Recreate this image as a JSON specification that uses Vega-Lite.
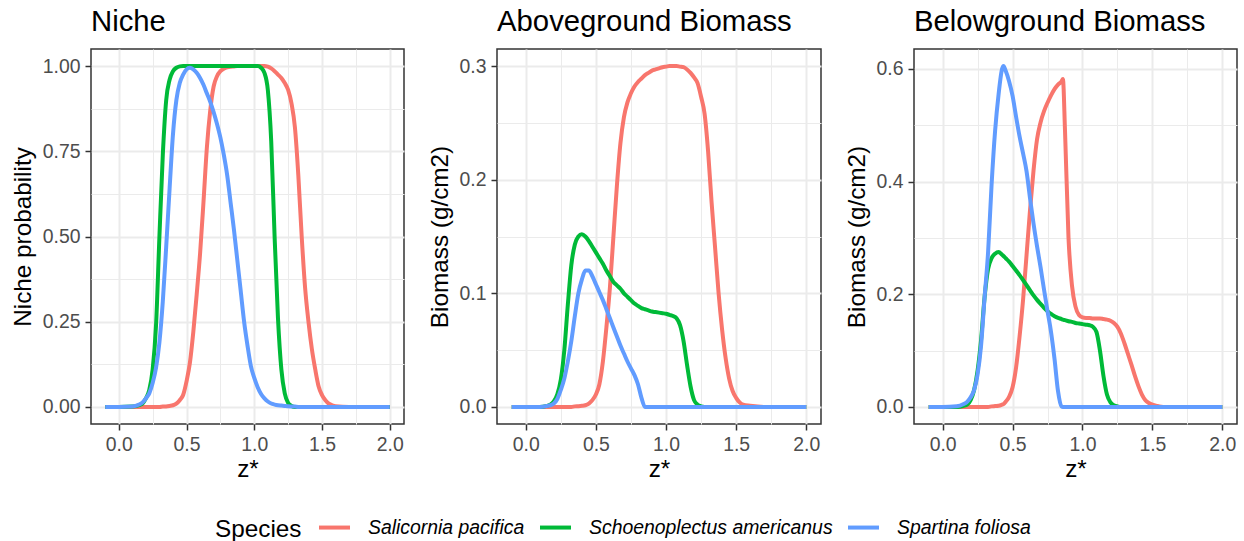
{
"$schema": "https://vega.github.io/schema/vega-lite/v6.json",
"padding": {"left": 10, "top": 6, "right": 8, "bottom": 0},
"background": "white",
"spacing": 22,
"bounds": "full",
"align": "none",
"config": {
 "font": "Liberation Sans",
 "view": {"stroke": "#333333", "strokeWidth": 1.5},
 "axis": {"domain": false, "gridColor": "#EBEBEB", "tickColor": "#333333", "tickSize": 6, "tickWidth": 1.5, "labelFontSize": 19.4, "labelColor": "#4D4D4D", "titleFontSize": 24.3, "titleColor": "#000000", "titleFontWeight": "normal", "labelFlush": false, "labelOverlap": false, "labelFont": "Liberation Sans", "titleFont": "Liberation Sans"},
 "axisX": {"labelPadding": 5, "titlePadding": 4},
 "axisY": {"labelPadding": 5, "titlePadding": 7},
 "title": {"fontSize": 29.3, "fontWeight": "normal", "color": "#000000", "anchor": "start", "frame": "group", "baseline": "alphabetic", "offset": 12, "font": "Liberation Sans"},
 "legend": {"direction": "horizontal", "titleOrient": "left", "titleBaseline": "line-top", "titleLineHeight": 13, "titleFontSize": 24.3, "titleFontWeight": "normal", "titleColor": "#000000", "labelFontSize": 19.4, "labelFontStyle": "italic", "labelColor": "#000000", "labelLimit": 500, "symbolType": "stroke", "symbolSize": 961, "symbolStrokeWidth": 4, "labelOffset": 16, "columnPadding": 7, "titlePadding": 15, "titleFont": "Liberation Sans", "labelFont": "Liberation Sans"},
 "line": {"strokeWidth": 4, "interpolate": "monotone"}
},
"datasets": {
 "niche": [
  {"z":-0.1,"Salicornia pacifica":0,"Schoenoplectus americanus":0,"Spartina foliosa":0},
  {"z":0,"Salicornia pacifica":0,"Schoenoplectus americanus":0,"Spartina foliosa":0},
  {"z":0.1,"Salicornia pacifica":0,"Schoenoplectus americanus":0.001,"Spartina foliosa":0.001},
  {"z":0.15,"Salicornia pacifica":0,"Schoenoplectus americanus":0.005,"Spartina foliosa":0.007},
  {"z":0.175,"Salicornia pacifica":0,"Schoenoplectus americanus":0.01,"Spartina foliosa":0.013},
  {"z":0.2,"Salicornia pacifica":0,"Schoenoplectus americanus":0.025,"Spartina foliosa":0.025},
  {"z":0.225,"Salicornia pacifica":0,"Schoenoplectus americanus":0.05,"Spartina foliosa":0.04},
  {"z":0.25,"Salicornia pacifica":0,"Schoenoplectus americanus":0.11,"Spartina foliosa":0.07},
  {"z":0.275,"Salicornia pacifica":0,"Schoenoplectus americanus":0.24,"Spartina foliosa":0.115},
  {"z":0.3,"Salicornia pacifica":0,"Schoenoplectus americanus":0.5,"Spartina foliosa":0.19},
  {"z":0.325,"Salicornia pacifica":0.001,"Schoenoplectus americanus":0.74,"Spartina foliosa":0.31},
  {"z":0.35,"Salicornia pacifica":0.0015,"Schoenoplectus americanus":0.9,"Spartina foliosa":0.47},
  {"z":0.375,"Salicornia pacifica":0.003,"Schoenoplectus americanus":0.96,"Spartina foliosa":0.64},
  {"z":0.4,"Salicornia pacifica":0.005,"Schoenoplectus americanus":0.985,"Spartina foliosa":0.8},
  {"z":0.425,"Salicornia pacifica":0.01,"Schoenoplectus americanus":0.995,"Spartina foliosa":0.9},
  {"z":0.45,"Salicornia pacifica":0.02,"Schoenoplectus americanus":0.999,"Spartina foliosa":0.95},
  {"z":0.475,"Salicornia pacifica":0.035,"Schoenoplectus americanus":1,"Spartina foliosa":0.975},
  {"z":0.5,"Salicornia pacifica":0.075,"Schoenoplectus americanus":1,"Spartina foliosa":0.99},
  {"z":0.525,"Salicornia pacifica":0.13,"Schoenoplectus americanus":1,"Spartina foliosa":0.995},
  {"z":0.55,"Salicornia pacifica":0.22,"Schoenoplectus americanus":1,"Spartina foliosa":0.99},
  {"z":0.575,"Salicornia pacifica":0.33,"Schoenoplectus americanus":1,"Spartina foliosa":0.98},
  {"z":0.6,"Salicornia pacifica":0.45,"Schoenoplectus americanus":1,"Spartina foliosa":0.965},
  {"z":0.625,"Salicornia pacifica":0.6,"Schoenoplectus americanus":1,"Spartina foliosa":0.945},
  {"z":0.65,"Salicornia pacifica":0.76,"Schoenoplectus americanus":1,"Spartina foliosa":0.92},
  {"z":0.675,"Salicornia pacifica":0.87,"Schoenoplectus americanus":1,"Spartina foliosa":0.895},
  {"z":0.7,"Salicornia pacifica":0.94,"Schoenoplectus americanus":1,"Spartina foliosa":0.865},
  {"z":0.725,"Salicornia pacifica":0.97,"Schoenoplectus americanus":1,"Spartina foliosa":0.83},
  {"z":0.75,"Salicornia pacifica":0.985,"Schoenoplectus americanus":1,"Spartina foliosa":0.79},
  {"z":0.775,"Salicornia pacifica":0.992,"Schoenoplectus americanus":1,"Spartina foliosa":0.74},
  {"z":0.8,"Salicornia pacifica":0.996,"Schoenoplectus americanus":1,"Spartina foliosa":0.68},
  {"z":0.825,"Salicornia pacifica":0.998,"Schoenoplectus americanus":1,"Spartina foliosa":0.6},
  {"z":0.85,"Salicornia pacifica":0.999,"Schoenoplectus americanus":1,"Spartina foliosa":0.52},
  {"z":0.875,"Salicornia pacifica":1,"Schoenoplectus americanus":1,"Spartina foliosa":0.43},
  {"z":0.9,"Salicornia pacifica":1,"Schoenoplectus americanus":1,"Spartina foliosa":0.34},
  {"z":0.925,"Salicornia pacifica":1,"Schoenoplectus americanus":1,"Spartina foliosa":0.25},
  {"z":0.95,"Salicornia pacifica":1,"Schoenoplectus americanus":1,"Spartina foliosa":0.18},
  {"z":0.975,"Salicornia pacifica":1,"Schoenoplectus americanus":1,"Spartina foliosa":0.12},
  {"z":1.0,"Salicornia pacifica":1,"Schoenoplectus americanus":1,"Spartina foliosa":0.085},
  {"z":1.025,"Salicornia pacifica":1,"Schoenoplectus americanus":1,"Spartina foliosa":0.058},
  {"z":1.05,"Salicornia pacifica":1,"Schoenoplectus americanus":0.995,"Spartina foliosa":0.038},
  {"z":1.075,"Salicornia pacifica":1,"Schoenoplectus americanus":0.98,"Spartina foliosa":0.025},
  {"z":1.1,"Salicornia pacifica":0.998,"Schoenoplectus americanus":0.93,"Spartina foliosa":0.016},
  {"z":1.125,"Salicornia pacifica":0.993,"Schoenoplectus americanus":0.78,"Spartina foliosa":0.01},
  {"z":1.15,"Salicornia pacifica":0.985,"Schoenoplectus americanus":0.5,"Spartina foliosa":0.007},
  {"z":1.175,"Salicornia pacifica":0.975,"Schoenoplectus americanus":0.26,"Spartina foliosa":0.005},
  {"z":1.2,"Salicornia pacifica":0.965,"Schoenoplectus americanus":0.11,"Spartina foliosa":0.004},
  {"z":1.225,"Salicornia pacifica":0.95,"Schoenoplectus americanus":0.04,"Spartina foliosa":0.003},
  {"z":1.25,"Salicornia pacifica":0.93,"Schoenoplectus americanus":0.012,"Spartina foliosa":0.002},
  {"z":1.275,"Salicornia pacifica":0.89,"Schoenoplectus americanus":0.003,"Spartina foliosa":0.0015},
  {"z":1.3,"Salicornia pacifica":0.82,"Schoenoplectus americanus":0,"Spartina foliosa":0.001},
  {"z":1.325,"Salicornia pacifica":0.68,"Schoenoplectus americanus":0,"Spartina foliosa":0},
  {"z":1.35,"Salicornia pacifica":0.5,"Schoenoplectus americanus":0,"Spartina foliosa":0},
  {"z":1.375,"Salicornia pacifica":0.35,"Schoenoplectus americanus":0,"Spartina foliosa":0},
  {"z":1.4,"Salicornia pacifica":0.25,"Schoenoplectus americanus":0,"Spartina foliosa":0},
  {"z":1.425,"Salicornia pacifica":0.17,"Schoenoplectus americanus":0,"Spartina foliosa":0},
  {"z":1.45,"Salicornia pacifica":0.11,"Schoenoplectus americanus":0,"Spartina foliosa":0},
  {"z":1.475,"Salicornia pacifica":0.06,"Schoenoplectus americanus":0,"Spartina foliosa":0},
  {"z":1.5,"Salicornia pacifica":0.035,"Schoenoplectus americanus":0,"Spartina foliosa":0},
  {"z":1.525,"Salicornia pacifica":0.02,"Schoenoplectus americanus":0,"Spartina foliosa":0},
  {"z":1.55,"Salicornia pacifica":0.01,"Schoenoplectus americanus":0,"Spartina foliosa":0},
  {"z":1.575,"Salicornia pacifica":0.005,"Schoenoplectus americanus":0,"Spartina foliosa":0},
  {"z":1.6,"Salicornia pacifica":0.002,"Schoenoplectus americanus":0,"Spartina foliosa":0},
  {"z":1.7,"Salicornia pacifica":0,"Schoenoplectus americanus":0,"Spartina foliosa":0},
  {"z":1.8,"Salicornia pacifica":0,"Schoenoplectus americanus":0,"Spartina foliosa":0},
  {"z":1.9,"Salicornia pacifica":0,"Schoenoplectus americanus":0,"Spartina foliosa":0},
  {"z":2.0,"Salicornia pacifica":0,"Schoenoplectus americanus":0,"Spartina foliosa":0}
 ],
 "above": [
  {"z":-0.1,"Salicornia pacifica":0,"Schoenoplectus americanus":0,"Spartina foliosa":0},
  {"z":0,"Salicornia pacifica":0,"Schoenoplectus americanus":0,"Spartina foliosa":0},
  {"z":0.1,"Salicornia pacifica":0,"Schoenoplectus americanus":0,"Spartina foliosa":0},
  {"z":0.15,"Salicornia pacifica":0,"Schoenoplectus americanus":0.001,"Spartina foliosa":0.0008},
  {"z":0.175,"Salicornia pacifica":0,"Schoenoplectus americanus":0.002,"Spartina foliosa":0.0015},
  {"z":0.2,"Salicornia pacifica":0,"Schoenoplectus americanus":0.005,"Spartina foliosa":0.003},
  {"z":0.225,"Salicornia pacifica":0,"Schoenoplectus americanus":0.011,"Spartina foliosa":0.007},
  {"z":0.25,"Salicornia pacifica":0,"Schoenoplectus americanus":0.024,"Spartina foliosa":0.015},
  {"z":0.275,"Salicornia pacifica":0,"Schoenoplectus americanus":0.05,"Spartina foliosa":0.025},
  {"z":0.3,"Salicornia pacifica":0,"Schoenoplectus americanus":0.09,"Spartina foliosa":0.04},
  {"z":0.325,"Salicornia pacifica":0,"Schoenoplectus americanus":0.125,"Spartina foliosa":0.058},
  {"z":0.35,"Salicornia pacifica":0.0005,"Schoenoplectus americanus":0.143,"Spartina foliosa":0.08},
  {"z":0.375,"Salicornia pacifica":0.0007,"Schoenoplectus americanus":0.15,"Spartina foliosa":0.1},
  {"z":0.4,"Salicornia pacifica":0.001,"Schoenoplectus americanus":0.152,"Spartina foliosa":0.112},
  {"z":0.425,"Salicornia pacifica":0.0015,"Schoenoplectus americanus":0.15,"Spartina foliosa":0.12},
  {"z":0.45,"Salicornia pacifica":0.003,"Schoenoplectus americanus":0.146,"Spartina foliosa":0.12},
  {"z":0.475,"Salicornia pacifica":0.006,"Schoenoplectus americanus":0.141,"Spartina foliosa":0.115},
  {"z":0.5,"Salicornia pacifica":0.011,"Schoenoplectus americanus":0.136,"Spartina foliosa":0.108},
  {"z":0.525,"Salicornia pacifica":0.02,"Schoenoplectus americanus":0.131,"Spartina foliosa":0.101},
  {"z":0.55,"Salicornia pacifica":0.04,"Schoenoplectus americanus":0.126,"Spartina foliosa":0.094},
  {"z":0.575,"Salicornia pacifica":0.07,"Schoenoplectus americanus":0.12,"Spartina foliosa":0.086},
  {"z":0.6,"Salicornia pacifica":0.105,"Schoenoplectus americanus":0.115,"Spartina foliosa":0.078},
  {"z":0.625,"Salicornia pacifica":0.15,"Schoenoplectus americanus":0.11,"Spartina foliosa":0.07},
  {"z":0.65,"Salicornia pacifica":0.195,"Schoenoplectus americanus":0.107,"Spartina foliosa":0.062},
  {"z":0.675,"Salicornia pacifica":0.232,"Schoenoplectus americanus":0.104,"Spartina foliosa":0.054},
  {"z":0.7,"Salicornia pacifica":0.255,"Schoenoplectus americanus":0.1,"Spartina foliosa":0.047},
  {"z":0.725,"Salicornia pacifica":0.268,"Schoenoplectus americanus":0.097,"Spartina foliosa":0.04},
  {"z":0.75,"Salicornia pacifica":0.276,"Schoenoplectus americanus":0.094,"Spartina foliosa":0.034},
  {"z":0.775,"Salicornia pacifica":0.282,"Schoenoplectus americanus":0.091,"Spartina foliosa":0.028},
  {"z":0.8,"Salicornia pacifica":0.286,"Schoenoplectus americanus":0.089,"Spartina foliosa":0.02},
  {"z":0.825,"Salicornia pacifica":0.289,"Schoenoplectus americanus":0.087,"Spartina foliosa":0.008},
  {"z":0.85,"Salicornia pacifica":0.292,"Schoenoplectus americanus":0.086,"Spartina foliosa":0},
  {"z":0.875,"Salicornia pacifica":0.294,"Schoenoplectus americanus":0.085,"Spartina foliosa":0},
  {"z":0.9,"Salicornia pacifica":0.296,"Schoenoplectus americanus":0.084,"Spartina foliosa":0},
  {"z":0.925,"Salicornia pacifica":0.297,"Schoenoplectus americanus":0.0835,"Spartina foliosa":0},
  {"z":0.95,"Salicornia pacifica":0.298,"Schoenoplectus americanus":0.083,"Spartina foliosa":0},
  {"z":0.975,"Salicornia pacifica":0.299,"Schoenoplectus americanus":0.0825,"Spartina foliosa":0},
  {"z":1.0,"Salicornia pacifica":0.2995,"Schoenoplectus americanus":0.082,"Spartina foliosa":0},
  {"z":1.025,"Salicornia pacifica":0.3,"Schoenoplectus americanus":0.081,"Spartina foliosa":0},
  {"z":1.05,"Salicornia pacifica":0.3,"Schoenoplectus americanus":0.08,"Spartina foliosa":0},
  {"z":1.075,"Salicornia pacifica":0.3,"Schoenoplectus americanus":0.078,"Spartina foliosa":0},
  {"z":1.1,"Salicornia pacifica":0.2995,"Schoenoplectus americanus":0.072,"Spartina foliosa":0},
  {"z":1.125,"Salicornia pacifica":0.299,"Schoenoplectus americanus":0.058,"Spartina foliosa":0},
  {"z":1.15,"Salicornia pacifica":0.297,"Schoenoplectus americanus":0.037,"Spartina foliosa":0},
  {"z":1.175,"Salicornia pacifica":0.294,"Schoenoplectus americanus":0.018,"Spartina foliosa":0},
  {"z":1.2,"Salicornia pacifica":0.29,"Schoenoplectus americanus":0.006,"Spartina foliosa":0},
  {"z":1.225,"Salicornia pacifica":0.285,"Schoenoplectus americanus":0.002,"Spartina foliosa":0},
  {"z":1.25,"Salicornia pacifica":0.273,"Schoenoplectus americanus":0.0005,"Spartina foliosa":0},
  {"z":1.275,"Salicornia pacifica":0.258,"Schoenoplectus americanus":0,"Spartina foliosa":0},
  {"z":1.3,"Salicornia pacifica":0.225,"Schoenoplectus americanus":0,"Spartina foliosa":0},
  {"z":1.325,"Salicornia pacifica":0.18,"Schoenoplectus americanus":0,"Spartina foliosa":0},
  {"z":1.35,"Salicornia pacifica":0.14,"Schoenoplectus americanus":0,"Spartina foliosa":0},
  {"z":1.375,"Salicornia pacifica":0.1,"Schoenoplectus americanus":0,"Spartina foliosa":0},
  {"z":1.4,"Salicornia pacifica":0.068,"Schoenoplectus americanus":0,"Spartina foliosa":0},
  {"z":1.425,"Salicornia pacifica":0.043,"Schoenoplectus americanus":0,"Spartina foliosa":0},
  {"z":1.45,"Salicornia pacifica":0.025,"Schoenoplectus americanus":0,"Spartina foliosa":0},
  {"z":1.475,"Salicornia pacifica":0.014,"Schoenoplectus americanus":0,"Spartina foliosa":0},
  {"z":1.5,"Salicornia pacifica":0.008,"Schoenoplectus americanus":0,"Spartina foliosa":0},
  {"z":1.525,"Salicornia pacifica":0.004,"Schoenoplectus americanus":0,"Spartina foliosa":0},
  {"z":1.55,"Salicornia pacifica":0.002,"Schoenoplectus americanus":0,"Spartina foliosa":0},
  {"z":1.6,"Salicornia pacifica":0.001,"Schoenoplectus americanus":0,"Spartina foliosa":0},
  {"z":1.7,"Salicornia pacifica":0,"Schoenoplectus americanus":0,"Spartina foliosa":0},
  {"z":1.8,"Salicornia pacifica":0,"Schoenoplectus americanus":0,"Spartina foliosa":0},
  {"z":1.9,"Salicornia pacifica":0,"Schoenoplectus americanus":0,"Spartina foliosa":0},
  {"z":2.0,"Salicornia pacifica":0,"Schoenoplectus americanus":0,"Spartina foliosa":0}
 ],
 "below": [
  {"z":-0.1,"Salicornia pacifica":0,"Schoenoplectus americanus":0,"Spartina foliosa":0},
  {"z":0,"Salicornia pacifica":0,"Schoenoplectus americanus":0,"Spartina foliosa":0},
  {"z":0.1,"Salicornia pacifica":0,"Schoenoplectus americanus":0,"Spartina foliosa":0.001},
  {"z":0.15,"Salicornia pacifica":0,"Schoenoplectus americanus":0.002,"Spartina foliosa":0.005},
  {"z":0.175,"Salicornia pacifica":0,"Schoenoplectus americanus":0.004,"Spartina foliosa":0.009},
  {"z":0.2,"Salicornia pacifica":0,"Schoenoplectus americanus":0.012,"Spartina foliosa":0.017},
  {"z":0.225,"Salicornia pacifica":0,"Schoenoplectus americanus":0.03,"Spartina foliosa":0.03},
  {"z":0.25,"Salicornia pacifica":0,"Schoenoplectus americanus":0.065,"Spartina foliosa":0.058},
  {"z":0.275,"Salicornia pacifica":0,"Schoenoplectus americanus":0.12,"Spartina foliosa":0.11},
  {"z":0.3,"Salicornia pacifica":0,"Schoenoplectus americanus":0.195,"Spartina foliosa":0.195},
  {"z":0.325,"Salicornia pacifica":0,"Schoenoplectus americanus":0.245,"Spartina foliosa":0.275},
  {"z":0.35,"Salicornia pacifica":0.001,"Schoenoplectus americanus":0.264,"Spartina foliosa":0.395},
  {"z":0.375,"Salicornia pacifica":0.0015,"Schoenoplectus americanus":0.272,"Spartina foliosa":0.49},
  {"z":0.4,"Salicornia pacifica":0.002,"Schoenoplectus americanus":0.275,"Spartina foliosa":0.555},
  {"z":0.425,"Salicornia pacifica":0.004,"Schoenoplectus americanus":0.27,"Spartina foliosa":0.6},
  {"z":0.435,"Salicornia pacifica":0.005,"Schoenoplectus americanus":0.268,"Spartina foliosa":0.605},
  {"z":0.45,"Salicornia pacifica":0.009,"Schoenoplectus americanus":0.264,"Spartina foliosa":0.597},
  {"z":0.475,"Salicornia pacifica":0.018,"Schoenoplectus americanus":0.258,"Spartina foliosa":0.578},
  {"z":0.5,"Salicornia pacifica":0.035,"Schoenoplectus americanus":0.25,"Spartina foliosa":0.552},
  {"z":0.525,"Salicornia pacifica":0.07,"Schoenoplectus americanus":0.242,"Spartina foliosa":0.515},
  {"z":0.55,"Salicornia pacifica":0.125,"Schoenoplectus americanus":0.234,"Spartina foliosa":0.48},
  {"z":0.575,"Salicornia pacifica":0.19,"Schoenoplectus americanus":0.225,"Spartina foliosa":0.45},
  {"z":0.6,"Salicornia pacifica":0.27,"Schoenoplectus americanus":0.216,"Spartina foliosa":0.418},
  {"z":0.625,"Salicornia pacifica":0.35,"Schoenoplectus americanus":0.207,"Spartina foliosa":0.37},
  {"z":0.65,"Salicornia pacifica":0.42,"Schoenoplectus americanus":0.198,"Spartina foliosa":0.325},
  {"z":0.675,"Salicornia pacifica":0.475,"Schoenoplectus americanus":0.19,"Spartina foliosa":0.285},
  {"z":0.7,"Salicornia pacifica":0.505,"Schoenoplectus americanus":0.183,"Spartina foliosa":0.248},
  {"z":0.725,"Salicornia pacifica":0.525,"Schoenoplectus americanus":0.176,"Spartina foliosa":0.208},
  {"z":0.75,"Salicornia pacifica":0.54,"Schoenoplectus americanus":0.17,"Spartina foliosa":0.17},
  {"z":0.775,"Salicornia pacifica":0.553,"Schoenoplectus americanus":0.165,"Spartina foliosa":0.133},
  {"z":0.8,"Salicornia pacifica":0.564,"Schoenoplectus americanus":0.161,"Spartina foliosa":0.085},
  {"z":0.825,"Salicornia pacifica":0.572,"Schoenoplectus americanus":0.158,"Spartina foliosa":0.028},
  {"z":0.85,"Salicornia pacifica":0.578,"Schoenoplectus americanus":0.156,"Spartina foliosa":0.001},
  {"z":0.86,"Salicornia pacifica":0.582,"Schoenoplectus americanus":0.155,"Spartina foliosa":0},
  {"z":0.875,"Salicornia pacifica":0.49,"Schoenoplectus americanus":0.154,"Spartina foliosa":0},
  {"z":0.9,"Salicornia pacifica":0.3,"Schoenoplectus americanus":0.152,"Spartina foliosa":0},
  {"z":0.925,"Salicornia pacifica":0.215,"Schoenoplectus americanus":0.151,"Spartina foliosa":0},
  {"z":0.95,"Salicornia pacifica":0.178,"Schoenoplectus americanus":0.149,"Spartina foliosa":0},
  {"z":0.975,"Salicornia pacifica":0.163,"Schoenoplectus americanus":0.148,"Spartina foliosa":0},
  {"z":1.0,"Salicornia pacifica":0.159,"Schoenoplectus americanus":0.147,"Spartina foliosa":0},
  {"z":1.025,"Salicornia pacifica":0.158,"Schoenoplectus americanus":0.146,"Spartina foliosa":0},
  {"z":1.05,"Salicornia pacifica":0.158,"Schoenoplectus americanus":0.145,"Spartina foliosa":0},
  {"z":1.075,"Salicornia pacifica":0.157,"Schoenoplectus americanus":0.142,"Spartina foliosa":0},
  {"z":1.1,"Salicornia pacifica":0.157,"Schoenoplectus americanus":0.133,"Spartina foliosa":0},
  {"z":1.125,"Salicornia pacifica":0.157,"Schoenoplectus americanus":0.1,"Spartina foliosa":0},
  {"z":1.15,"Salicornia pacifica":0.156,"Schoenoplectus americanus":0.055,"Spartina foliosa":0},
  {"z":1.175,"Salicornia pacifica":0.155,"Schoenoplectus americanus":0.022,"Spartina foliosa":0},
  {"z":1.2,"Salicornia pacifica":0.153,"Schoenoplectus americanus":0.008,"Spartina foliosa":0},
  {"z":1.225,"Salicornia pacifica":0.149,"Schoenoplectus americanus":0.003,"Spartina foliosa":0},
  {"z":1.25,"Salicornia pacifica":0.142,"Schoenoplectus americanus":0.001,"Spartina foliosa":0},
  {"z":1.275,"Salicornia pacifica":0.13,"Schoenoplectus americanus":0,"Spartina foliosa":0},
  {"z":1.3,"Salicornia pacifica":0.113,"Schoenoplectus americanus":0,"Spartina foliosa":0},
  {"z":1.325,"Salicornia pacifica":0.094,"Schoenoplectus americanus":0,"Spartina foliosa":0},
  {"z":1.35,"Salicornia pacifica":0.075,"Schoenoplectus americanus":0,"Spartina foliosa":0},
  {"z":1.375,"Salicornia pacifica":0.055,"Schoenoplectus americanus":0,"Spartina foliosa":0},
  {"z":1.4,"Salicornia pacifica":0.037,"Schoenoplectus americanus":0,"Spartina foliosa":0},
  {"z":1.425,"Salicornia pacifica":0.022,"Schoenoplectus americanus":0,"Spartina foliosa":0},
  {"z":1.45,"Salicornia pacifica":0.012,"Schoenoplectus americanus":0,"Spartina foliosa":0},
  {"z":1.475,"Salicornia pacifica":0.007,"Schoenoplectus americanus":0,"Spartina foliosa":0},
  {"z":1.5,"Salicornia pacifica":0.004,"Schoenoplectus americanus":0,"Spartina foliosa":0},
  {"z":1.525,"Salicornia pacifica":0.002,"Schoenoplectus americanus":0,"Spartina foliosa":0},
  {"z":1.55,"Salicornia pacifica":0.001,"Schoenoplectus americanus":0,"Spartina foliosa":0},
  {"z":1.6,"Salicornia pacifica":0,"Schoenoplectus americanus":0,"Spartina foliosa":0},
  {"z":1.7,"Salicornia pacifica":0,"Schoenoplectus americanus":0,"Spartina foliosa":0},
  {"z":1.8,"Salicornia pacifica":0,"Schoenoplectus americanus":0,"Spartina foliosa":0},
  {"z":1.9,"Salicornia pacifica":0,"Schoenoplectus americanus":0,"Spartina foliosa":0},
  {"z":2.0,"Salicornia pacifica":0,"Schoenoplectus americanus":0,"Spartina foliosa":0}
 ]
},
"hconcat": [
 {
  "title": "Niche",
  "data": {"name": "niche"},
  "transform": [{"fold": ["Salicornia pacifica", "Schoenoplectus americanus", "Spartina foliosa"], "as": ["Species", "v"]}],
  "width": 313, "height": 375,
  "mark": {"type": "line"},
  "encoding": {
   "x": {"field": "z", "type": "quantitative", "scale": {"domain": [-0.205, 2.105], "nice": false, "zero": false},
    "axis": {"title": "z*", "values": [0, 0.25, 0.5, 0.75, 1, 1.25, 1.5, 1.75, 2], "format": ".1f",
     "labelExpr": "indexof([0,0.5,1,1.5,2], datum.value) >= 0 ? datum.label : ''",
     "gridWidth": {"condition": {"test": "indexof([0,0.5,1,1.5,2], datum.value) < 0", "value": 1}, "value": 2},
     "tickOpacity": {"condition": {"test": "indexof([0,0.5,1,1.5,2], datum.value) < 0", "value": 0}, "value": 1}}},
   "y": {"field": "v", "type": "quantitative", "scale": {"domain": [-0.05, 1.05], "nice": false, "zero": false},
    "axis": {"title": "Niche probability", "values": [0, 0.125, 0.25, 0.375, 0.5, 0.625, 0.75, 0.875, 1], "format": ".2f",
     "labelExpr": "indexof([0,0.25,0.5,0.75,1], datum.value) >= 0 ? datum.label : ''",
     "gridWidth": {"condition": {"test": "indexof([0,0.25,0.5,0.75,1], datum.value) < 0", "value": 1}, "value": 2},
     "tickOpacity": {"condition": {"test": "indexof([0,0.25,0.5,0.75,1], datum.value) < 0", "value": 0}, "value": 1}}},
   "color": {"field": "Species", "type": "nominal",
    "scale": {"domain": ["Salicornia pacifica", "Schoenoplectus americanus", "Spartina foliosa"], "range": ["#F8766D", "#00BA38", "#619CFF"]},
    "legend": {"title": "Species", "orient": "none", "legendX": 124, "legendY": 461}}
  }
 },
 {
  "title": "Aboveground Biomass",
  "data": {"name": "above"},
  "transform": [{"fold": ["Salicornia pacifica", "Schoenoplectus americanus", "Spartina foliosa"], "as": ["Species", "v"]}],
  "width": 324, "height": 375,
  "mark": {"type": "line"},
  "encoding": {
   "x": {"field": "z", "type": "quantitative", "scale": {"domain": [-0.205, 2.105], "nice": false, "zero": false},
    "axis": {"title": "z*", "values": [0, 0.25, 0.5, 0.75, 1, 1.25, 1.5, 1.75, 2], "format": ".1f",
     "labelExpr": "indexof([0,0.5,1,1.5,2], datum.value) >= 0 ? datum.label : ''",
     "gridWidth": {"condition": {"test": "indexof([0,0.5,1,1.5,2], datum.value) < 0", "value": 1}, "value": 2},
     "tickOpacity": {"condition": {"test": "indexof([0,0.5,1,1.5,2], datum.value) < 0", "value": 0}, "value": 1}}},
   "y": {"field": "v", "type": "quantitative", "scale": {"domain": [-0.015, 0.315], "nice": false, "zero": false},
    "axis": {"title": "Biomass (g/cm2)", "values": [0, 0.05, 0.1, 0.15, 0.2, 0.25, 0.3], "format": ".1f",
     "labelExpr": "indexof([0,0.1,0.2,0.3], datum.value) >= 0 ? datum.label : ''",
     "gridWidth": {"condition": {"test": "indexof([0,0.1,0.2,0.3], datum.value) < 0", "value": 1}, "value": 2},
     "tickOpacity": {"condition": {"test": "indexof([0,0.1,0.2,0.3], datum.value) < 0", "value": 0}, "value": 1}}},
   "color": {"field": "Species", "type": "nominal",
    "scale": {"domain": ["Salicornia pacifica", "Schoenoplectus americanus", "Spartina foliosa"], "range": ["#F8766D", "#00BA38", "#619CFF"]},
    "legend": {"title": "Species", "orient": "none", "legendX": 124, "legendY": 461}}
  }
 },
 {
  "title": "Belowground Biomass",
  "data": {"name": "below"},
  "transform": [{"fold": ["Salicornia pacifica", "Schoenoplectus americanus", "Spartina foliosa"], "as": ["Species", "v"]}],
  "width": 323, "height": 375,
  "mark": {"type": "line"},
  "encoding": {
   "x": {"field": "z", "type": "quantitative", "scale": {"domain": [-0.205, 2.105], "nice": false, "zero": false},
    "axis": {"title": "z*", "values": [0, 0.25, 0.5, 0.75, 1, 1.25, 1.5, 1.75, 2], "format": ".1f",
     "labelExpr": "indexof([0,0.5,1,1.5,2], datum.value) >= 0 ? datum.label : ''",
     "gridWidth": {"condition": {"test": "indexof([0,0.5,1,1.5,2], datum.value) < 0", "value": 1}, "value": 2},
     "tickOpacity": {"condition": {"test": "indexof([0,0.5,1,1.5,2], datum.value) < 0", "value": 0}, "value": 1}}},
   "y": {"field": "v", "type": "quantitative", "scale": {"domain": [-0.0303, 0.6353], "nice": false, "zero": false},
    "axis": {"title": "Biomass (g/cm2)", "values": [0, 0.1, 0.2, 0.3, 0.4, 0.5, 0.6], "format": ".1f",
     "labelExpr": "indexof([0,0.2,0.4,0.6], datum.value) >= 0 ? datum.label : ''",
     "gridWidth": {"condition": {"test": "indexof([0,0.2,0.4,0.6], datum.value) < 0", "value": 1}, "value": 2},
     "tickOpacity": {"condition": {"test": "indexof([0,0.2,0.4,0.6], datum.value) < 0", "value": 0}, "value": 1}}},
   "color": {"field": "Species", "type": "nominal",
    "scale": {"domain": ["Salicornia pacifica", "Schoenoplectus americanus", "Spartina foliosa"], "range": ["#F8766D", "#00BA38", "#619CFF"]},
    "legend": {"title": "Species", "orient": "none", "legendX": 124, "legendY": 461}}
  }
 }
]
}
